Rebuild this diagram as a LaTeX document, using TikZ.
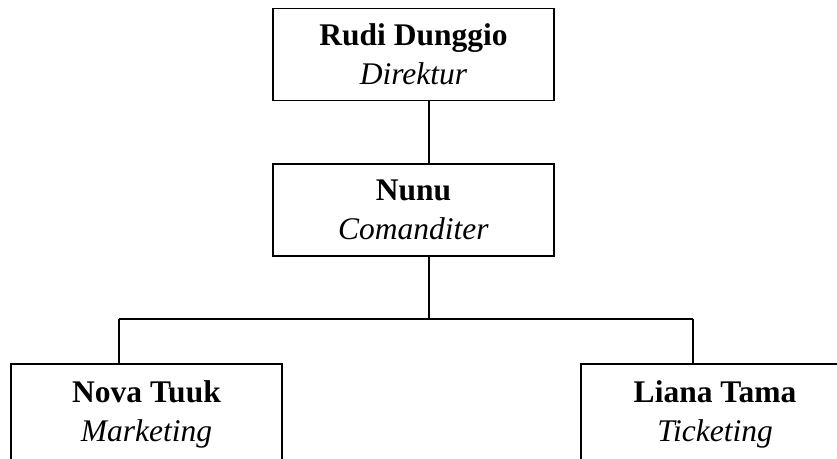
\documentclass[tikz,border=0pt]{standalone}
\usepackage{fontspec}
\setmainfont{Liberation Serif}
\usepackage{tikz}
\usetikzlibrary{positioning, calc}

\begin{document}
\begin{tikzpicture}[
  x=0.5pt, y=-0.5pt,
  font=\fontsize{15.75}{19.5}\selectfont,
  box/.style={rectangle, draw, line width=0.9pt, minimum width=140.5pt, minimum height=46pt, inner sep=2pt, align=center},
  tallbox/.style={rectangle, draw, line width=0.9pt, minimum height=56pt, anchor=north},
  txt/.style={align=center, inner sep=2pt},
  link/.style={line width=0.9pt}
]
  \useasboundingbox (0,0) rectangle (837,459);
  \clip (0,0) rectangle (837,459);

  \node[box] (dir) at (413.5,54.5) {\textbf{Rudi Dunggio}\\\textit{Direktur}};
  \node[box] (kom) at (413.5,210) {\textbf{Nunu}\\\textit{Comanditer}};

  % staff row, cut off by the page edge
  \node[tallbox, minimum width=135.5pt] (mkt) at (146.5,363) {};
  \node[txt] (mktText) at (146.5,414) {\textbf{Nova Tuuk}\\\textit{Marketing}};
  \node[tallbox, minimum width=140pt] (tkt) at (721,363) {};
  \node[txt] (tktText) at (715,414) {\textbf{Liana Tama}\\\textit{Ticketing}};

  \coordinate (bus) at (429,319);
  \coordinate (busL) at (119,319);
  \coordinate (busR) at (693,319);

  \draw[link] (dir.south -| bus) -- (kom.north -| bus);
  \draw[link] (kom.south -| bus) -- (bus);
  \draw[link] (busL) -- (busR);
  \draw[link] (busL) -- (busL |- mkt.north);
  \draw[link] (busR) -- (busR |- tkt.north);
\end{tikzpicture}
\end{document}
